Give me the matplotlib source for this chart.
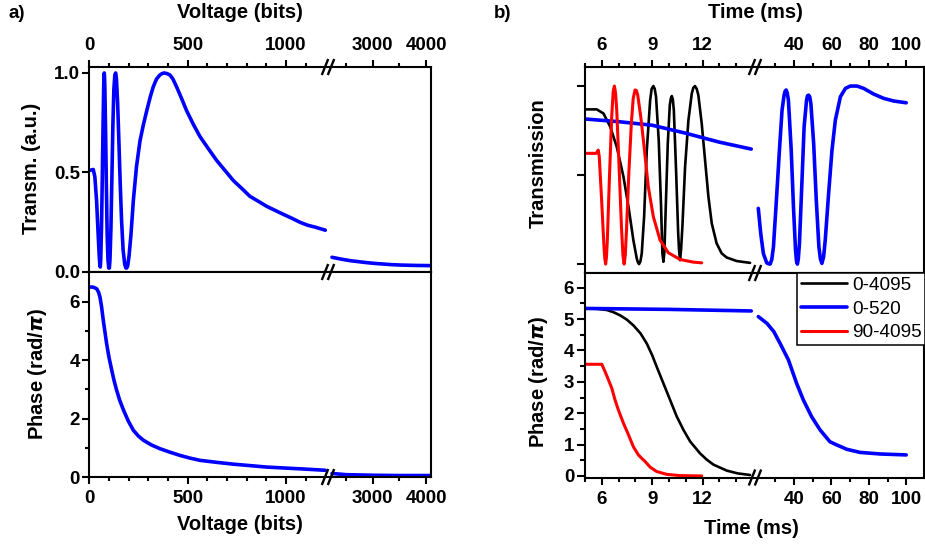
import numpy as np
import matplotlib
matplotlib.use("Agg")
import matplotlib.pyplot as plt
from matplotlib.ticker import FixedLocator
from matplotlib.lines import Line2D

# ---------------- data: (a) voltage sweep ----------------
volt_left = [0, 20, 28, 37, 45, 50, 54, 56, 58, 62, 66, 70, 73, 74.5, 76, 77.5, 79, 83,
             87, 91, 95, 99, 102, 105, 110, 115, 120, 125, 130, 134, 138, 144, 150,
             157, 164, 172, 180, 186, 190, 195, 202, 212, 224, 240, 258, 275, 292,
             310, 325, 342, 359, 370, 381, 395, 410, 425, 444, 470, 495, 530, 563,
             605, 648, 690, 732, 775, 817, 860, 902, 944, 986, 1030, 1071, 1110,
             1150, 1200]
trans_left = [0.51, 0.515, 0.48, 0.36, 0.19, 0.09, 0.03, 0.025, 0.06, 0.22, 0.47,
              0.74, 0.92, 0.98, 1.00, 0.98, 0.93, 0.70, 0.42, 0.18, 0.06, 0.02, 0.02,
              0.06, 0.22, 0.48, 0.74, 0.92, 0.99, 1.00, 0.97, 0.85, 0.67, 0.45, 0.26,
              0.11, 0.04, 0.02, 0.02, 0.03, 0.08, 0.19, 0.36, 0.53, 0.66, 0.74, 0.81,
              0.88, 0.93, 0.97, 0.99, 0.997, 1.00, 0.997, 0.99, 0.97, 0.93, 0.87,
              0.81, 0.74, 0.68, 0.62, 0.56, 0.51, 0.46, 0.42, 0.38, 0.355, 0.33, 0.31,
              0.29, 0.27, 0.25, 0.235, 0.225, 0.21]
volt_right = [2235, 2400, 2574, 2730, 2887, 3040, 3199, 3350, 3512, 3800, 4095]
trans_right = [0.074, 0.065, 0.057, 0.052, 0.047, 0.043, 0.040, 0.037, 0.035, 0.033,
               0.032]

phase_volt_left = [0, 20, 37, 47, 54, 62, 71, 80, 88, 100, 114, 126, 139, 155, 174,
                   198, 224, 250, 275, 315, 359, 410, 461, 510, 563, 650, 732, 817,
                   902, 986, 1071, 1150, 1200]
phase_left = [6.51, 6.50, 6.45, 6.33, 6.17, 5.85, 5.37, 4.95, 4.57, 4.10, 3.66, 3.30,
              2.97, 2.62, 2.29, 1.92, 1.60, 1.40, 1.26, 1.10, 0.97, 0.85, 0.74, 0.65,
              0.57, 0.50, 0.44, 0.39, 0.34, 0.31, 0.28, 0.25, 0.23]
phase_volt_right = [2235, 2500, 3000, 3500, 4095]
phase_right = [0.12, 0.08, 0.06, 0.05, 0.05]

volt_major = [0, 500, 1000, 3000, 4000]
volt_minor = [100, 200, 300, 400, 600, 700, 800, 900, 1100, 2500, 3500]

# ---------------- data: (b) time traces ----------------
t_black = [5.0, 5.7, 6.1, 6.5, 6.89, 7.29, 7.59, 7.88, 8.08, 8.15, 8.22, 8.30, 8.38,
           8.52, 8.68, 8.88, 8.97, 9.07, 9.15, 9.23, 9.39, 9.53, 9.61, 9.67, 9.73,
           9.81, 9.93, 10.05, 10.11, 10.17, 10.23, 10.29, 10.43, 10.55, 10.60, 10.66,
           10.72, 10.80, 10.96, 11.16, 11.36, 11.45, 11.55, 11.65, 11.75, 11.95,
           12.15, 12.35, 12.55, 12.84, 13.14, 13.44, 14.04, 14.83]
tr_black = [0.869, 0.869, 0.846, 0.772, 0.659, 0.491, 0.322, 0.135, 0.032, 0.01, 0.0,
            0.015, 0.06, 0.266, 0.640, 0.921, 0.985, 1.0, 0.985, 0.94, 0.697, 0.322,
            0.06, 0.013, 0.07, 0.322, 0.678, 0.893, 0.93, 0.944, 0.925, 0.865, 0.509,
            0.172, 0.08, 0.022, 0.08, 0.21, 0.547, 0.809, 0.959, 0.99, 1.0, 0.985,
            0.949, 0.790, 0.584, 0.378, 0.228, 0.116, 0.06, 0.037, 0.017, 0.007]

t_red = [5.0, 5.65, 5.73, 5.79, 5.85, 5.99, 6.13, 6.18, 6.23, 6.28, 6.33, 6.45, 6.59,
         6.68, 6.75, 6.82, 6.89, 7.03, 7.17, 7.26, 7.33, 7.40, 7.47, 7.61, 7.76, 7.87,
         7.98, 8.06, 8.14, 8.32, 8.52, 8.77, 9.07, 9.47, 9.96, 10.66, 11.45, 11.95]
tr_red = [0.622, 0.622, 0.631, 0.640, 0.603, 0.36, 0.097, 0.03, 0.0, 0.04, 0.135,
          0.472, 0.828, 0.97, 1.0, 0.96, 0.865, 0.547, 0.21, 0.05, 0.0, 0.05, 0.191,
          0.509, 0.79, 0.93, 0.978, 0.975, 0.949, 0.828, 0.659, 0.434, 0.266, 0.135,
          0.064, 0.026, 0.011, 0.007]

t_blue_left = [5.0, 7.0, 9.0, 11.0, 13.0, 14.9]
tr_blue_left = [0.815, 0.80, 0.78, 0.735, 0.685, 0.646]
t_blue_right = [20.9, 22.2, 23.6, 25.4, 26.3, 27.2, 28.1, 29.0, 30.8, 32.2, 33.6,
                34.7, 35.2, 35.8, 36.4, 37.0, 38.5, 39.7, 40.8, 41.3, 41.8, 42.3,
                42.9, 44.2, 45.4, 46.7, 47.2, 47.8, 48.4, 49.0, 50.5, 51.9, 53.3,
                54.1, 54.9, 55.8, 56.7, 58.5, 60.3, 62.1, 64.8, 67.5, 70.1, 73.7,
                77.2, 82.6, 87.9, 93.3, 100.0]
tr_blue_right = [0.313, 0.172, 0.06, 0.007, 0.002, 0.0, 0.025, 0.097, 0.397, 0.64,
                 0.865, 0.949, 0.97, 0.978, 0.96, 0.921, 0.64, 0.322, 0.079, 0.02, 0.0,
                 0.03, 0.116, 0.453, 0.772, 0.921, 0.945, 0.949, 0.94, 0.903, 0.678,
                 0.36, 0.097, 0.03, 0.004, 0.04, 0.135, 0.397, 0.64, 0.809, 0.94,
                 0.987, 1.0, 1.0, 0.987, 0.955, 0.931, 0.916, 0.906]

tp_black = [5.0, 5.7, 6.3, 6.7, 7.09, 7.5, 7.88, 8.3, 8.68, 9.0, 9.27, 9.67, 10.07,
            10.46, 10.86, 11.26, 11.85, 12.25, 12.65, 13.44, 14.1, 14.83]
ph_black = [5.34, 5.33, 5.29, 5.22, 5.12, 4.98, 4.80, 4.55, 4.22, 3.85, 3.48, 2.95,
            2.42, 1.90, 1.47, 1.10, 0.72, 0.52, 0.36, 0.17, 0.08, 0.03]
tp_red = [5.0, 6.0, 6.2, 6.4, 6.6, 6.79, 6.99, 7.29, 7.59, 7.88, 8.18, 8.38, 8.58,
          8.88, 9.27, 9.87, 10.66, 11.95]
ph_red = [3.56, 3.56, 3.32, 3.06, 2.79, 2.42, 2.10, 1.68, 1.31, 0.93, 0.67, 0.56, 0.46,
          0.28, 0.14, 0.05, 0.01, 0.0]
tp_blue_left = [5.0, 10.0, 14.9]
ph_blue_left = [5.34, 5.31, 5.26]
tp_blue_right = [20.9, 25.6, 29.2, 32.5, 37.0, 41.4, 45.0, 49.4, 53.9, 59.2, 62.8,
                 68.2, 75.3, 86.0, 100.0]
ph_blue_right = [5.08, 4.86, 4.60, 4.23, 3.70, 2.95, 2.42, 1.89, 1.47, 1.09, 0.99,
                 0.85, 0.75, 0.70, 0.67]

time_major = [6, 9, 12, 40, 60, 80, 100]
time_minor = [5, 7, 8, 10, 11, 13, 14, 30, 50, 70, 90]
series_labels = ["0-4095", "0-520", "90-4095"]

# ---------------- styling ----------------
plt.rcParams["font.family"] = ["Liberation Sans", "DejaVu Sans"]
plt.rcParams["font.weight"] = "bold"
plt.rcParams["axes.labelweight"] = "bold"
plt.rcParams["mathtext.fontset"] = "dejavusans"
plt.rcParams["lines.solid_joinstyle"] = "round"
plt.rcParams["lines.solid_capstyle"] = "round"

W, H = 925, 544
fig = plt.figure(figsize=(W / 100, H / 100), dpi=100)

BLUE, RED, BLACK = "#0000FF", "#FF0000", "#000000"
LW_BLUE, LW_BLACK, LW_RED = 2.6, 1.9, 2.2
SPINE_W = 1.5
TICK_FS = 13.5
LABEL_FS = 14.5


def add_axes_px(left, top, right, bottom):
    return fig.add_axes([left / W, 1 - bottom / H, (right - left) / W, (bottom - top) / H])


def broken_axis(xp, fp):
    """Piecewise-linear forward/inverse pair for an axis with a break."""
    xp = np.asarray(xp, float)
    fp = np.asarray(fp, float)

    def make(a, b):
        lo = (b[1] - b[0]) / (a[1] - a[0])
        hi = (b[-1] - b[-2]) / (a[-1] - a[-2])

        def f(x):
            x = np.asarray(x, float)
            y = np.interp(x, a, b)
            y = np.where(x < a[0], b[0] + (x - a[0]) * lo, y)
            y = np.where(x > a[-1], b[-1] + (x - a[-1]) * hi, y)
            return y
        return f
    return make(xp, fp), make(fp, xp)


def style(ax, top_labels, xmajor, xminor, ylen):
    for s in ax.spines.values():
        s.set_linewidth(SPINE_W)
    ax.xaxis.set_major_locator(FixedLocator(xmajor))
    ax.xaxis.set_minor_locator(FixedLocator(xminor))
    ax.tick_params(axis="x", which="both", direction="out", width=SPINE_W,
                   top=top_labels, bottom=not top_labels,
                   labeltop=top_labels, labelbottom=not top_labels)
    ax.tick_params(axis="x", which="major", length=5, labelsize=TICK_FS, pad=4.5)
    ax.tick_params(axis="x", which="minor", length=2.7)
    ax.tick_params(axis="y", which="both", direction="out", width=SPINE_W,
                   left=True, right=False)
    ax.tick_params(axis="y", which="major", length=ylen, labelsize=TICK_FS, pad=1.8)
    ax.tick_params(axis="y", which="minor", length=ylen * 0.55)


def break_marks(xc, ys):
    for y in ys:
        for dx in (-3.0, 3.0):
            x0, x1 = xc + dx - 3.2, xc + dx + 3.2
            y0, y1 = y + 8.0, y - 8.0
            fig.add_artist(Line2D([x0 / W, x1 / W], [1 - y0 / H, 1 - y1 / H],
                                  transform=fig.transFigure, color="black",
                                  lw=1.7, solid_capstyle="butt", zorder=10))


# ---------------- panel (a) ----------------
a_fwd, a_inv = broken_axis([0, 1200, 2235, 4095], [89.3, 325.3, 332.0, 431.1])
a_l, a_r = 89.3, 431.1
ax_at = add_axes_px(a_l, 67, a_r, 272)
ax_ab = add_axes_px(a_l, 272, a_r, 477)
for ax in (ax_at, ax_ab):
    ax.set_xscale("function", functions=(a_fwd, a_inv))
    ax.set_xlim(0, 4095)

ax_at.plot(volt_left, trans_left, color=BLUE, lw=LW_BLUE)
ax_at.plot(volt_right, trans_right, color=BLUE, lw=LW_BLUE)
ax_at.set_ylim(0, 1.03)
style(ax_at, True, volt_major, volt_minor, 5)
ax_at.yaxis.set_major_locator(FixedLocator([0.0, 0.5, 1.0]))
ax_at.yaxis.set_major_formatter(lambda v, p: f"{v:.1f}")
ax_at.set_xlabel("Voltage (bits)", fontsize=LABEL_FS)
ax_at.xaxis.set_label_position("top")
ax_at.xaxis.set_label_coords((240 - a_l) / (a_r - a_l), 1 + (67 - 13) / 205)
ax_at.xaxis.label.set_va("center")
ax_at.set_ylabel("Transm. (a.u.)", fontsize=LABEL_FS)
ax_at.yaxis.set_label_coords((31.5 - a_l) / (a_r - a_l), (272 - 168) / 205)
ax_at.yaxis.label.set_va("center")

ax_ab.plot(phase_volt_left, phase_left, color=BLUE, lw=LW_BLUE)
ax_ab.plot(phase_volt_right, phase_right, color=BLUE, lw=LW_BLUE)
ax_ab.set_ylim(0, 7.02)
style(ax_ab, False, volt_major, volt_minor, 5)
ax_ab.yaxis.set_major_locator(FixedLocator([0, 2, 4, 6]))
ax_ab.yaxis.set_minor_locator(FixedLocator([1, 3, 5]))
ax_ab.set_xlabel("Voltage (bits)", fontsize=LABEL_FS)
ax_ab.xaxis.set_label_coords((240 - a_l) / (a_r - a_l), -(525 - 477) / 205)
ax_ab.xaxis.label.set_va("center")
ax_ab.set_ylabel(r"Phase (rad/$\pi$)", fontsize=LABEL_FS)
ax_ab.yaxis.set_label_coords((37.5 - a_l) / (a_r - a_l), (477 - 373.5) / 205)
ax_ab.yaxis.label.set_va("center")

break_marks(328, [67, 272, 477])

# ---------------- panel (b) ----------------
b_fwd, b_inv = broken_axis([5, 15, 20, 110], [584.9, 752.9, 756.6, 925.0])
b_l, b_r = 585.0, 924.0
ax_bt = add_axes_px(b_l, 67, b_r, 273)
ax_bb = add_axes_px(b_l, 273, b_r, 477.5)
for ax in (ax_bt, ax_bb):
    ax.set_xscale("function", functions=(b_fwd, b_inv))
    ax.set_xlim(5, 109.5)

ax_bt.plot(t_black, tr_black, color=BLACK, lw=LW_BLACK)
ax_bt.plot(t_blue_left, tr_blue_left, color=BLUE, lw=LW_BLUE)
ax_bt.plot(t_blue_right, tr_blue_right, color=BLUE, lw=LW_BLUE)
ax_bt.plot(t_red, tr_red, color=RED, lw=LW_RED)
ax_bt.set_ylim(-0.05, 1.107)
style(ax_bt, True, time_major, time_minor, 6)
ax_bt.yaxis.set_major_locator(FixedLocator([0.0, 0.5, 1.0]))
ax_bt.tick_params(axis="y", labelleft=False)
ax_bt.set_xlabel("Time (ms)", fontsize=LABEL_FS)
ax_bt.xaxis.set_label_position("top")
ax_bt.xaxis.set_label_coords((755 - b_l) / (b_r - b_l), 1 + (67 - 13) / 206)
ax_bt.xaxis.label.set_va("center")
ax_bt.set_ylabel("Transmission", fontsize=LABEL_FS)
ax_bt.yaxis.set_label_coords((538.5 - b_l) / (b_r - b_l), (273 - 163.5) / 206)
ax_bt.yaxis.label.set_va("center")

l1, = ax_bb.plot(tp_black, ph_black, color=BLACK, lw=LW_BLACK, label=series_labels[0])
l2, = ax_bb.plot(tp_blue_left, ph_blue_left, color=BLUE, lw=LW_BLUE,
                 label=series_labels[1])
ax_bb.plot(tp_blue_right, ph_blue_right, color=BLUE, lw=LW_BLUE)
l3, = ax_bb.plot(tp_red, ph_red, color=RED, lw=LW_RED, label=series_labels[2])
ax_bb.set_ylim(-0.05, 6.47)
style(ax_bb, False, time_major, time_minor, 6)
ax_bb.yaxis.set_major_locator(FixedLocator([0, 1, 2, 3, 4, 5, 6]))
ax_bb.yaxis.set_minor_locator(FixedLocator([0.5, 1.5, 2.5, 3.5, 4.5, 5.5]))
ax_bb.set_xlabel("Time (ms)", fontsize=LABEL_FS)
ax_bb.xaxis.set_label_coords((751.7 - b_l) / (b_r - b_l), -(528.5 - 477.5) / 204.5)
ax_bb.xaxis.label.set_va("center")
ax_bb.set_ylabel(r"Phase (rad/$\pi$)", fontsize=LABEL_FS)
ax_bb.yaxis.set_label_coords((538 - b_l) / (b_r - b_l), (477.5 - 381.6) / 204.5)
ax_bb.yaxis.label.set_va("center")

leg = ax_bb.legend(handles=[l1, l2, l3], loc="upper left",
                   bbox_to_anchor=((796.7 - b_l) / (b_r - b_l), 1.0),
                   borderaxespad=0, prop={"size": 13.7, "weight": "normal"},
                   handlelength=2.45, handletextpad=0.25, labelspacing=0.33,
                   borderpad=0.2, frameon=True, fancybox=False, framealpha=1,
                   edgecolor="black")
leg.get_frame().set_linewidth(1.1)
leg.set_zorder(20)

break_marks(755, [67, 273, 477.5])

# panel tags
fig.text(17 / W, 1 - 13.5 / H, "a)", ha="center", va="center", fontsize=13.5,
         fontweight="bold")
fig.text(502.5 / W, 1 - 13.5 / H, "b)", ha="center", va="center", fontsize=13.5,
         fontweight="bold")

fig.savefig("out.png", dpi=100)
